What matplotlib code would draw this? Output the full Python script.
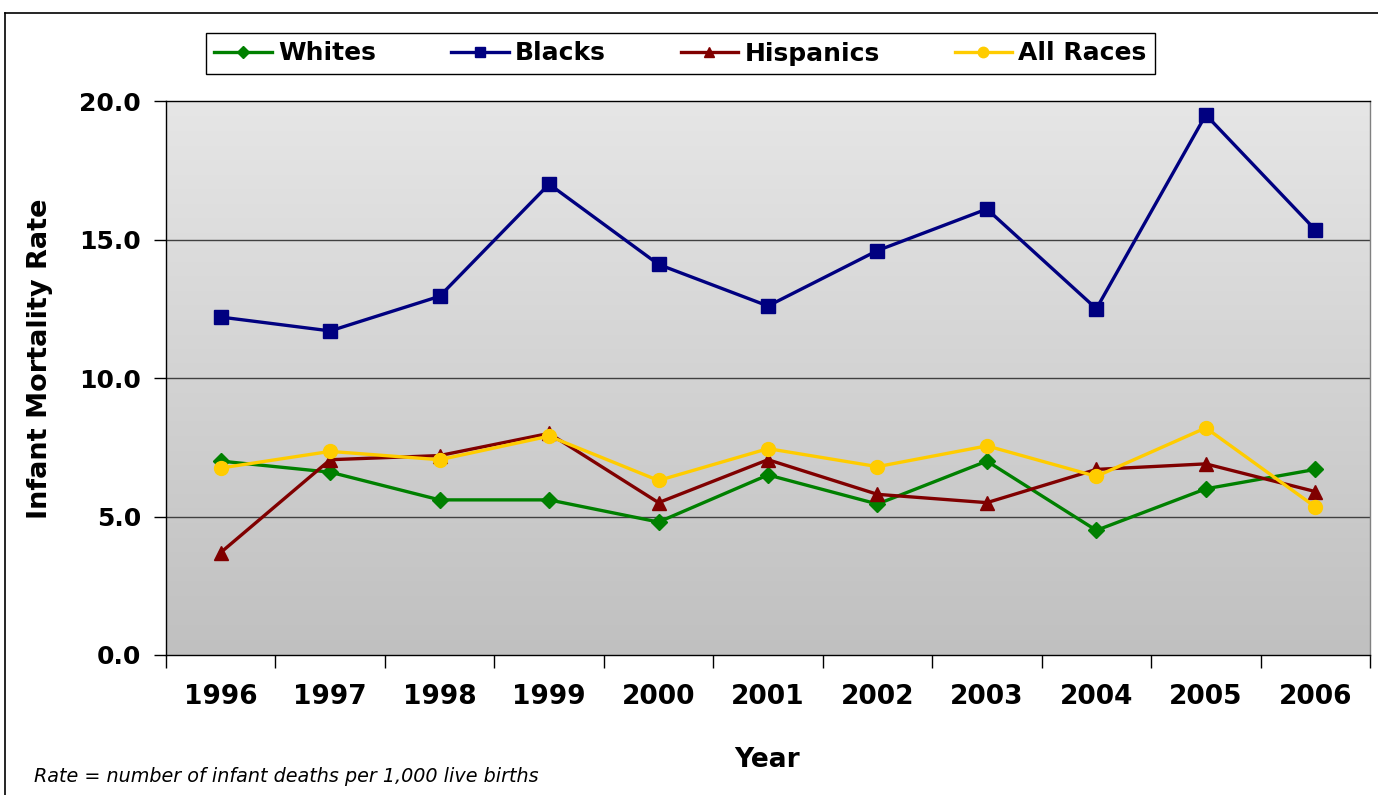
import matplotlib
matplotlib.use("Agg")
import matplotlib.pyplot as plt
import numpy as np
from matplotlib.lines import Line2D
from matplotlib.colors import LinearSegmentedColormap

years = ["1996", "1997", "1998", "1999", "2000", "2001", "2002", "2003", "2004", "2005", "2006"]
whites = [7.0, 6.6, 5.6, 5.6, 4.8, 6.5, 5.45, 7.0, 4.5, 6.0, 6.7]
blacks = [12.2, 11.7, 12.95, 17.0, 14.1, 12.6, 14.6, 16.1, 12.5, 19.5, 15.35]
hispanics = [3.7, 7.05, 7.2, 8.0, 5.5, 7.05, 5.8, 5.5, 6.7, 6.9, 5.9]
all_races = [6.75, 7.35, 7.05, 7.9, 6.3, 7.45, 6.8, 7.55, 6.45, 8.2, 5.35]
series_names = ["Whites", "Blacks", "Hispanics", "All Races"]
y_ticks = [0.0, 5.0, 10.0, 15.0, 20.0]

plt.rcParams['font.family'] = ['DejaVu Sans']

fig = plt.figure(figsize=(13.78, 7.95), dpi=100)
ax = fig.add_axes([166/1378, 1-655/795, (1370-166)/1378, (655-101)/795])

# gradient background
grad = np.linspace(0, 1, 256).reshape(-1, 1)
cmap = LinearSegmentedColormap.from_list("bg", ["#c0c0c0", "#e6e6e6"])
ax.imshow(grad, cmap=cmap, aspect='auto', extent=[0, 1, 0, 1], transform=ax.transAxes,
          origin='lower', zorder=0)

x = np.arange(len(years))
styles = [
    (whites, "#008000", "D", 8.5),
    (blacks, "#000080", "s", 9.5),
    (hispanics, "#800000", "^", 10.5),
    (all_races, "#FFCC00", "o", 10),
]
handles = []
for (vals, col, mk, ms), name in zip(styles, series_names):
    ax.plot(x, vals, color=col, lw=2.4, marker=mk, markersize=ms, zorder=3)
    handles.append(Line2D([], [], color=col, lw=2.4, marker=mk, markersize=ms*0.75, label=name))

ax.set_xlim(-0.5, len(years) - 0.5)
ax.set_ylim(0, 20)
ax.set_yticks(y_ticks)
ax.set_yticklabels([f"{v:.1f}" for v in y_ticks], fontsize=18, fontweight='bold')
for v in y_ticks[1:-1]:
    ax.axhline(v, color="#404040", lw=1.0, zorder=1)

ax.set_xticks(np.arange(-0.5, len(years), 1.0))
ax.set_xticklabels([])
ax.set_xticks(x, minor=True)
ax.set_xticklabels(years, minor=True, fontsize=19, fontweight='bold')
ax.tick_params(axis='x', which='major', length=9, width=1, color='black')
ax.tick_params(axis='x', which='minor', length=0, pad=21)
ax.tick_params(axis='y', length=9, width=1, pad=9)

ax.spines['left'].set_color('black')
ax.spines['bottom'].set_color('black')
ax.spines['top'].set_color('black')
ax.spines['right'].set_color('#808080')
for s in ax.spines.values():
    s.set_linewidth(1.0)

fig.text(40/1378, 1-359/795, "Infant Mortality Rate", rotation=90, ha='center', va='center',
         fontsize=19.5, fontweight='bold')
fig.text(767/1378, 1-760/795, "Year", ha='center', va='center', fontsize=19, fontweight='bold')
fig.text(34/1378, 1-777/795, "Rate = number of infant deaths per 1,000 live births",
         ha='left', va='center', fontsize=13.8, style='italic')

leg = fig.legend(handles=handles, loc='center', bbox_to_anchor=((204+1157)/2/1378, 1-53.5/795),
                 ncol=4, frameon=True, fancybox=False, edgecolor='black', framealpha=1,
                 prop={'size': 18, 'weight': 'bold'}, handlelength=2.3, handletextpad=0.25,
                 columnspacing=3.0, borderpad=0.35, borderaxespad=0)
leg.get_frame().set_linewidth(1.0)

# outer chart frame
fig.add_artist(Line2D([5/1378, 1.0], [1-13/795, 1-13/795], color='black', lw=1.2, transform=fig.transFigure))
fig.add_artist(Line2D([5/1378, 5/1378], [0, 1-13/795], color='black', lw=1.2, transform=fig.transFigure))

fig.savefig("out.png", dpi=100)
